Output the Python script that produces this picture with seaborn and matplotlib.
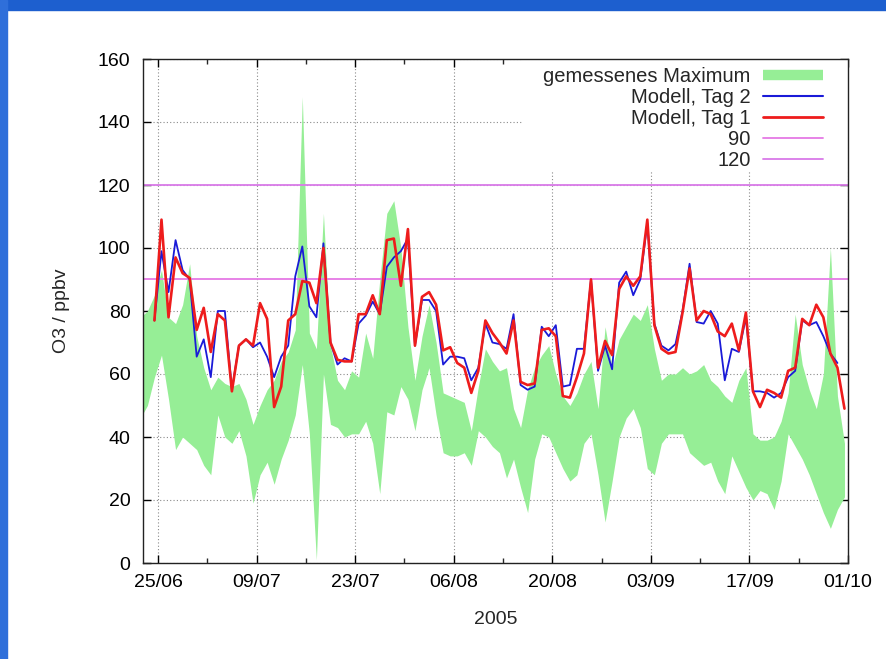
import numpy as np
import pandas as pd
import matplotlib
matplotlib.use("Agg")
import matplotlib.pyplot as plt
import seaborn as sns
from matplotlib.lines import Line2D
from matplotlib.patches import Rectangle

# ---------------- data ----------------
model_start = "2005-06-24 12:00"
model_tag1 = [77, 109, 78, 97, 92, 90.5, 74, 81, 67, 79, 77, 54.5, 69, 71, 69, 82.5, 77.5, 49.5, 56, 77,
              79, 89.5, 89, 82.5, 100, 70, 64.5, 64, 64, 79, 79, 85, 79, 102.5, 103, 88, 106, 69, 84.5, 86,
              82, 67.5, 68.5, 63.5, 62, 54, 61, 77, 73, 70, 66.5, 77, 57.5, 56.5, 57, 74, 74.5, 72, 53, 52.5,
              59, 66.5, 90, 62, 70.5, 66, 87, 91, 88, 91, 109, 75.5, 68, 66.5, 67, 79.5, 93.5, 77, 80, 79,
              73.5, 72, 76, 67.5, 79.5, 54.5, 49.5, 55, 54, 52.5, 61, 62, 77.5, 75.5, 82, 78, 66.5, 62, 49]
model_tag2 = [77, 99, 86, 102.5, 93, 90, 65.5, 71, 59, 80, 80, 55, 69, 71, 68.5, 70, 65.5, 59, 65.5, 69,
              91, 100.5, 81.5, 78, 101.5, 70, 63, 65, 64, 76, 78.5, 83, 79, 94, 97, 99, 103, 69, 83.5, 83.5,
              80, 63, 65.5, 65.5, 65, 58, 62, 76, 70, 69.5, 68, 79, 56.5, 55, 56, 75, 72, 75.5, 56, 56.5,
              68, 68, 90, 61, 69, 61.5, 89, 92.5, 85, 90, 108, 76, 69, 67.5, 69.5, 80, 95, 76.5, 76, 80,
              76, 58, 68, 67, 78, 54.5, 54.5, 54, 52.5, 54, 59, 61, 77, 75.5, 76.5, 72, 66.5, 63.5, np.nan]

meas_start = "2005-06-22 12:00"
meas_upper = [78, 80, 85, 93, 78, 76, 82, 95, 72, 62, 55, 59, 57, 56, 57, 52, 44, 50, 55, 58,
              64, 67, 74, 148, 73, 68, 111, 69, 58, 55, 61, 59, 73, 65, 90, 111, 115, 100, 75, 58,
              72, 82, 70, 54, 53, 52, 51, 42, 56, 68, 64, 61, 62, 49, 43, 55, 62, 66, 69, 60,
              53, 50, 54, 60, 64, 49, 75, 62, 71, 75, 79, 77, 82, 68, 58, 60, 60, 62, 60, 61,
              63, 58, 56, 53, 51, 58, 62, 41, 39, 39, 40, 45, 54, 79, 63, 55, 49, 60, 100, 53, 38]
meas_lower = [46, 50, 59, 66, 52, 36, 40, 38, 36, 31, 28, 47, 40, 38, 42, 34, 19, 28, 32, 25,
              33, 39, 47, 63, 41, 1, 60, 44, 43, 40, 41, 41, 45, 38, 22, 48, 47, 56, 52, 42,
              55, 62, 47, 35, 34, 34, 35, 31, 42, 40, 37, 35, 27, 33, 24, 16, 33, 41, 40, 35,
              30, 26, 28, 38, 41, 28, 13, 26, 40, 46, 49, 43, 30, 28, 38, 41, 41, 41, 35, 33,
              31, 32, 26, 22, 34, 29, 24, 20, 23, 22, 17, 26, 41, 37, 33, 28, 22, 16, 11, 17, 21]

thresholds = [90, 120]
xtick_dates = ["2005-06-25", "2005-07-09", "2005-07-23", "2005-08-06",
               "2005-08-20", "2005-09-03", "2005-09-17", "2005-10-01"]
xtick_labels = ["25/06", "09/07", "23/07", "06/08", "20/08", "03/09", "17/09", "01/10"]
yticks = [0, 20, 40, 60, 80, 100, 120, 140, 160]
legend_labels = ["gemessenes Maximum", "Modell, Tag 2", "Modell, Tag 1", "90", "120"]

# ---------------- frames ----------------
df_model = pd.DataFrame({
    "date": pd.date_range(model_start, periods=len(model_tag1), freq="D"),
    "tag1": model_tag1,
    "tag2": model_tag2,
})
meas_dates = pd.date_range(meas_start, periods=len(meas_upper), freq="D")

# ---------------- style ----------------
sns.set_style("ticks")
plt.rcParams["font.family"] = ["Liberation Sans", "DejaVu Sans"]
plt.rcParams["font.size"] = 14

C_GREEN = "#96ee96"
C_BLUE = "#1a1ad8"
C_RED = "#ee1c1c"
C_MAG1 = "#e57ae5"
C_MAG2 = "#d97ae8"

fig = plt.figure(figsize=(8.86, 6.59), dpi=100, facecolor="white")
W, H = 886.0, 659.0
ax = fig.add_axes([143 / W, 1 - 563 / H, 705 / W, 504 / H])
ax.set_facecolor("white")

# slide frame (blue bands)
fig.add_artist(Rectangle((0, 1 - 10 / H), 1, 10 / H, transform=fig.transFigure,
                         color="#1d5fcf", zorder=10))
fig.add_artist(Rectangle((0, 0), 7 / W, 1, transform=fig.transFigure,
                         color="#2f6fda", zorder=10))

# grid
ax.set_axisbelow(True)
ax.grid(True, which="major", linestyle=(0, (1, 2)), color="#8a8a8a", linewidth=0.8)

# white legend background hiding grid
ax.add_patch(Rectangle(((523 - 143) / 705, (563 - 172) / 504), 1 - (523 - 143) / 705,
                       172 / 504, transform=ax.transAxes, facecolor="white",
                       edgecolor="none", zorder=1))

# measured band
ax.fill_between(meas_dates, meas_lower, meas_upper, color=C_GREEN, linewidth=0, zorder=1.5)

# thresholds
ax.axhline(thresholds[0], color=C_MAG1, linewidth=1.3, zorder=2)
ax.axhline(thresholds[1], color=C_MAG2, linewidth=1.3, zorder=2)

# model lines
sns.lineplot(data=df_model, x="date", y="tag2", color=C_BLUE, linewidth=1.3,
             ax=ax, legend=False, estimator=None, zorder=3)
sns.lineplot(data=df_model, x="date", y="tag1", color=C_RED, linewidth=1.9,
             ax=ax, legend=False, estimator=None, zorder=4)

# ticks first, then limits
ax.set_yticks(yticks)
ax.set_xticks(pd.to_datetime(xtick_dates), labels=xtick_labels)
ax.set_xticks(pd.date_range("2005-07-02", "2005-09-24", freq="14D"), minor=True)
ax.set_xlim(pd.Timestamp("2005-06-22 21:00"), pd.Timestamp("2005-10-01 00:00"))
ax.set_ylim(0, 160)
ax.tick_params(axis="both", which="major", direction="in", length=6, width=1,
               top=True, right=True, labelsize=14, colors="black")
ax.tick_params(axis="x", which="major", pad=8)
ax.tick_params(axis="y", which="major", pad=9)
ax.tick_params(axis="x", which="minor", direction="in", length=3.5, width=1,
               top=True, bottom=True)
for s in ax.spines.values():
    s.set_visible(True)
    s.set_color("#222222")
    s.set_linewidth(1.0)

ax.set_xlabel("2005", fontsize=14, labelpad=14)
ax.set_ylabel("O3 / ppbv", fontsize=14, labelpad=20)

# legend
handles = [
    Line2D([], [], color=C_GREEN, linewidth=7.5, solid_capstyle="butt"),
    Line2D([], [], color=C_BLUE, linewidth=1.5),
    Line2D([], [], color=C_RED, linewidth=2.0),
    Line2D([], [], color=C_MAG1, linewidth=1.3),
    Line2D([], [], color=C_MAG2, linewidth=1.3),
]
leg = ax.legend(handles, legend_labels, loc="upper right",
                bbox_to_anchor=((823 - 143) / 705, (563 - 67) / 504),
                frameon=False, markerfirst=False, fontsize=14.5,
                handlelength=3.0, handletextpad=0.6, labelspacing=0.1,
                borderpad=0, borderaxespad=0)
leg.set_zorder(6)

fig.savefig("out.png", dpi=100, facecolor="white")
